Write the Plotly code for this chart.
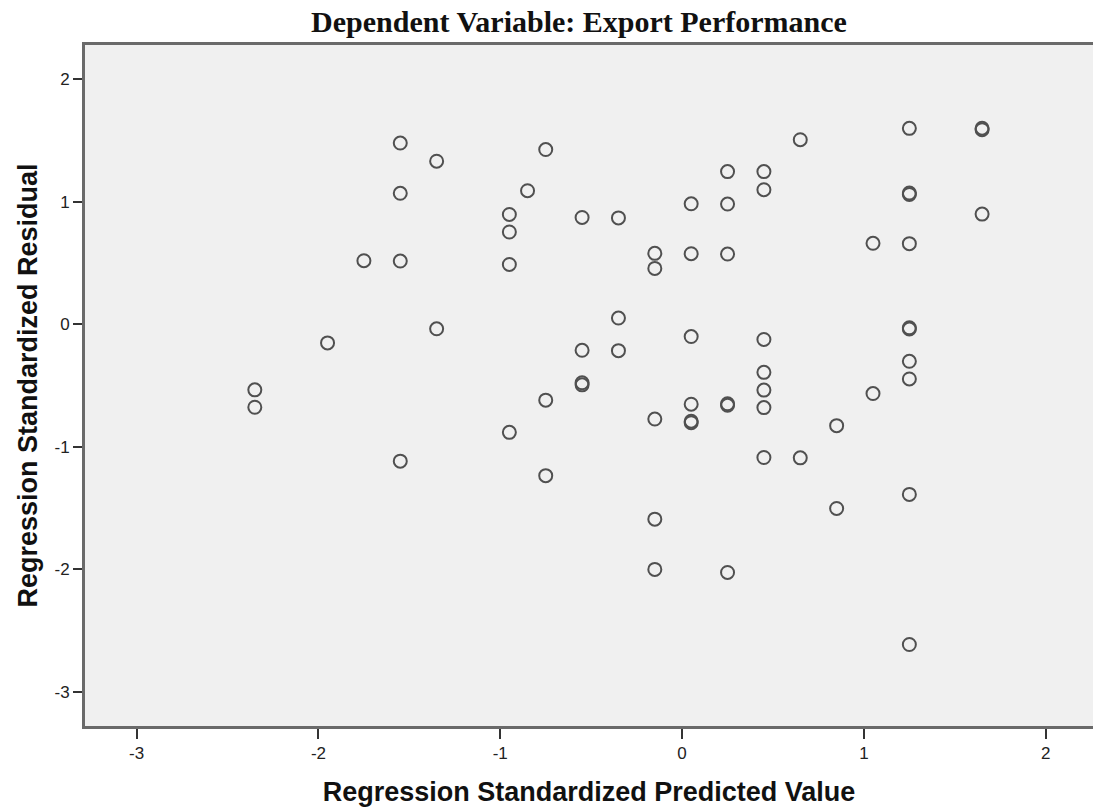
import plotly.graph_objects as go

# Regression standardized predicted value (x) and residual (y)
predicted = [
    -2.35, -2.35,
    -1.95,
    -1.75,
    -1.55, -1.55, -1.55, -1.55,
    -1.35, -1.35,
    -0.95, -0.95, -0.95, -0.95,
    -0.85,
    -0.75, -0.75, -0.75,
    -0.55, -0.55, -0.55, -0.55,
    -0.35, -0.35, -0.35,
    -0.15, -0.15, -0.15, -0.15, -0.15,
    0.05, 0.05, 0.05, 0.05, 0.05, 0.05,
    0.25, 0.25, 0.25, 0.25, 0.25, 0.25,
    0.45, 0.45, 0.45, 0.45, 0.45, 0.45, 0.45,
    0.65, 0.65,
    0.85, 0.85,
    1.05, 1.05,
    1.25, 1.25, 1.25, 1.25, 1.25, 1.25, 1.25, 1.25, 1.25, 1.25,
    1.65, 1.65, 1.65,
]
residual = [
    -0.536, -0.678,
    -0.153,
    0.518,
    1.478, 1.068, 0.515, -1.118,
    1.330, -0.038,
    0.895, 0.752, 0.487, -0.883,
    1.089,
    1.425, -0.620, -1.236,
    0.871, -0.213, -0.478, -0.495,
    0.867, 0.050, -0.216,
    0.578, 0.455, -0.774, -1.591, -2.001,
    0.982, 0.575, -0.101, -0.653, -0.792, -0.804,
    1.245, 0.980, 0.572, -0.650, -0.662, -2.026,
    1.245, 1.097, -0.125, -0.393, -0.538, -0.681, -1.088,
    1.505, -1.091,
    -0.828, -1.504,
    0.660, -0.566,
    1.598, 1.058, 1.070, 0.657, -0.030, -0.040, -0.303, -0.447, -1.389, -2.614,
    1.587, 1.599, 0.898,
]

x_ticks = [-3, -2, -1, 0, 1, 2]
y_ticks = [-3, -2, -1, 0, 1, 2]

fig = go.Figure(go.Scatter(
    x=predicted, y=residual, mode="markers",
    marker=dict(symbol="circle-open", size=13, color="#505050", line=dict(width=2)),
    hoverinfo="x+y",
))

frame = "#6a6a6a"
fig.update_layout(
    width=1093, height=811,
    margin=dict(l=85, r=0, t=45, b=85),
    paper_bgcolor="white", plot_bgcolor="#f0f0f0",
    showlegend=False,
    title=dict(text="<b>Dependent Variable: Export Performance</b>",
               x=579 / 1093, xanchor="center", y=1 - 21 / 811, yanchor="middle",
               font=dict(family="Liberation Serif, Times New Roman, serif", size=30, color="#111")),
)
fig.update_xaxes(
    range=[-3.284, 2.26], tickvals=x_ticks, ticktext=[str(v) for v in x_ticks],
    showgrid=False, zeroline=False,
    showline=True, linecolor=frame, linewidth=3, mirror=True,
    ticks="outside", ticklen=10, tickwidth=2, tickcolor="#333",
    tickfont=dict(family="Liberation Sans, Arial, sans-serif", size=17, color="#222"),
    title=dict(text="<b>Regression Standardized Predicted Value</b>", standoff=20,
               font=dict(family="Liberation Sans, Arial, sans-serif", size=27, color="#111")),
)
fig.update_yaxes(
    range=[-3.279, 2.278], tickvals=y_ticks, ticktext=[str(v) for v in y_ticks],
    showgrid=False, zeroline=False,
    showline=True, linecolor=frame, linewidth=3, mirror=False,
    ticks="outside", ticklen=9, tickwidth=2, tickcolor="#333",
    tickfont=dict(family="Liberation Sans, Arial, sans-serif", size=17, color="#222"),
    title=dict(text="<b>Regression Standardized Residual</b>", standoff=10,
               font=dict(family="Liberation Sans, Arial, sans-serif", size=27, color="#111")),
)

fig.write_html("out.html")
